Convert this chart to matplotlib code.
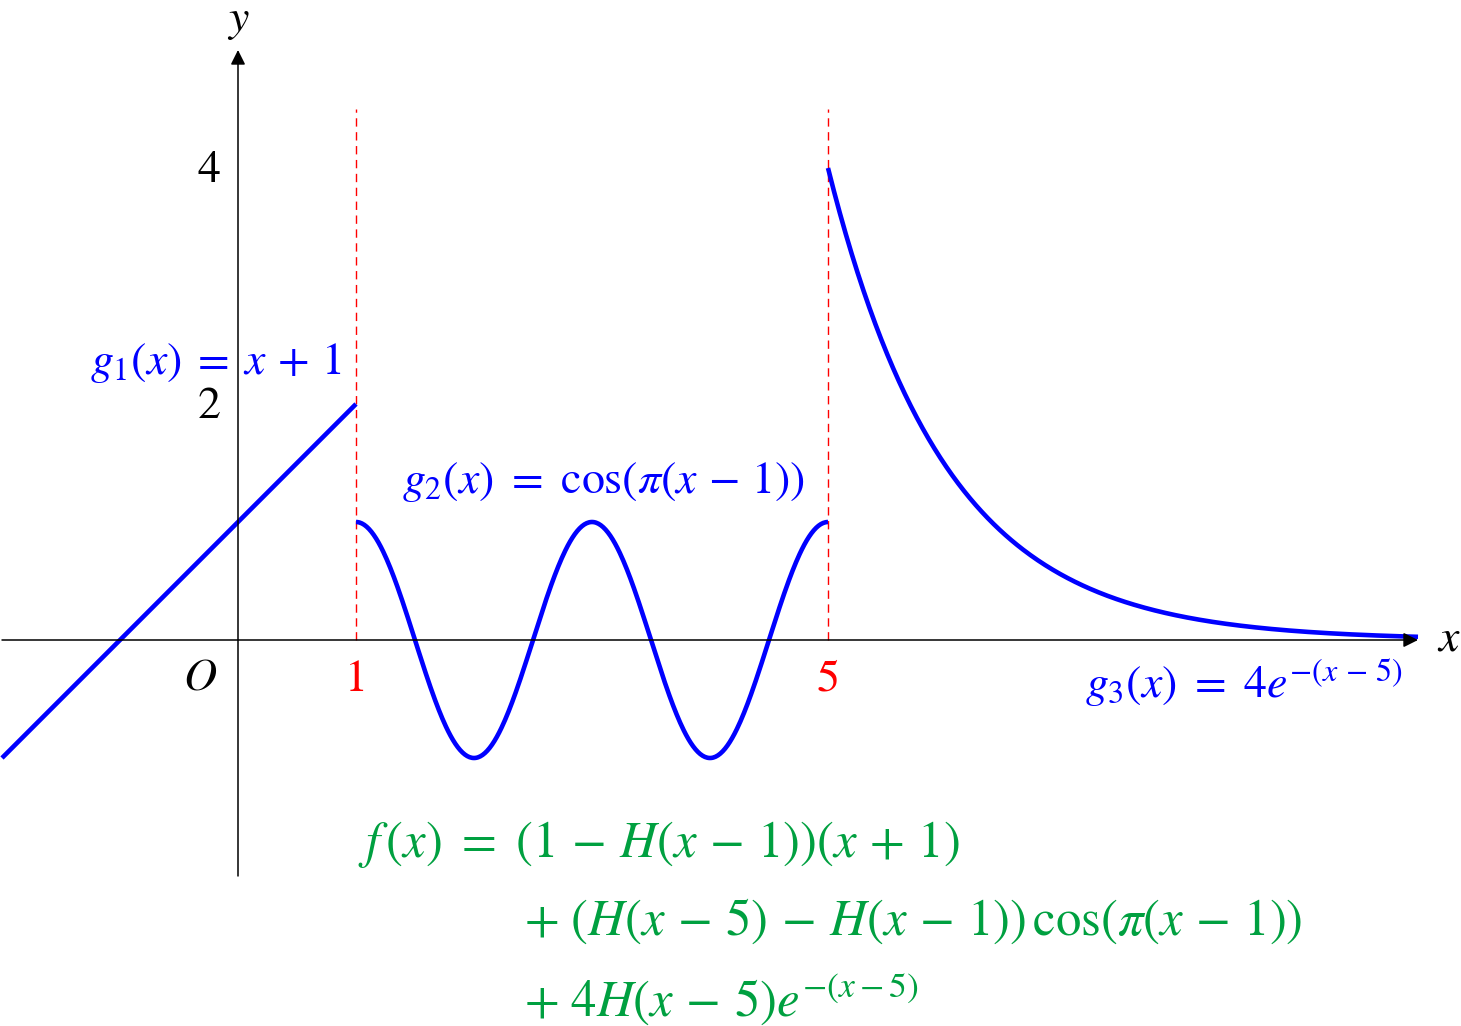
import numpy as np
import matplotlib
matplotlib.use("Agg")
import matplotlib.pyplot as plt

plt.rcParams["mathtext.fontset"] = "stix"
plt.rcParams["font.family"] = ["STIXGeneral", "DejaVu Serif"]

# piecewise pieces shown in the chart: (x start, x end)
g1_range = [-2, 1]
g2_range = [1, 5]
g3_range = [5, 10]
breakpoints = [1, 5]
dash_top = 4.5
x_axis = [-2, 10]
y_axis = [-2, 5]
y_ticks = [2, 4]

BLUE = "#0000ff"
RED = "#ff0000"
GREEN = "#00a040"


def g1(x):
    return x + 1


def g2(x):
    return np.cos(np.pi * (x - 1))


def g3(x):
    return 4 * np.exp(-(x - 5))


fig = plt.figure(figsize=(14.61, 10.26), dpi=100)
ax = fig.add_axes([0, 0, 1, 1])
ax.set_xlim(-238 / 118, (1461 - 238) / 118)
ax.set_ylim((640 - 1026) / 118, 640 / 118)
ax.set_axis_off()

arrow = dict(arrowstyle="-|>", lw=1.1, color="black", mutation_scale=22,
             shrinkA=0, shrinkB=0)
ax.annotate("", xy=(x_axis[1], 0), xytext=(x_axis[0], 0), arrowprops=arrow)
ax.annotate("", xy=(0, y_axis[1]), xytext=(0, y_axis[0]), arrowprops=arrow)

for b in breakpoints:
    ax.plot([b, b], [0, dash_top], color=RED, lw=1.0, ls=(0, (6, 4)))

for f, (a, b) in [(g1, g1_range), (g2, g2_range), (g3, g3_range)]:
    xs = np.linspace(a, b, 400)
    ax.plot(xs, f(xs), color=BLUE, lw=3.3, solid_capstyle="butt")

fs = 33
ax.text(10.26, 0, r"$x$", fontsize=fs, ha="center", va="center")
ax.text(0, 5.24, r"$y$", fontsize=fs, ha="center", va="center")
for t in y_ticks:
    ax.text(-0.15, t - 0.03, f"{t}", fontsize=fs, ha="right", va="center")
ax.text(-0.32, -0.33, r"$O$", fontsize=fs, ha="center", va="center")
for b in breakpoints:
    ax.text(b, -0.34, f"{b}", fontsize=fs, ha="center", va="center", color=RED)

bfs = 33
ax.text(-1.25, 2.35, r"$g_1(x)\;=\;x\,+\,1$", fontsize=bfs, color=BLUE,
        ha="left", va="center")
ax.text(1.39, 1.34, r"$g_2(x)\ =\ \cos(\pi(x\,-\,1))$", fontsize=bfs, color=BLUE,
        ha="left", va="center")
ax.text(7.18, -0.37, r"$g_3(x)\ =\ 4e^{-(x\,-\,5)}$", fontsize=bfs, color=BLUE,
        ha="left", va="center")

gfs = 36.5
ax.text(1.02, -1.73, r"$f\,(x)\ =\ (1\,-\,H(x\,-\,1))(x\,+\,1)$", fontsize=gfs,
        color=GREEN, ha="left", va="center")
ax.text(2.42, -2.38,
        r"$+\ (H(x\,-\,5)\,-\,H(x\,-\,1))\,\cos(\pi(x\,-\,1))$",
        fontsize=gfs, color=GREEN, ha="left", va="center")
ax.text(2.42, -3.04, r"$+\ 4H(x\,-\,5)e^{-(x-5)}$", fontsize=gfs,
        color=GREEN, ha="left", va="center")

fig.savefig("out.png", dpi=100)
